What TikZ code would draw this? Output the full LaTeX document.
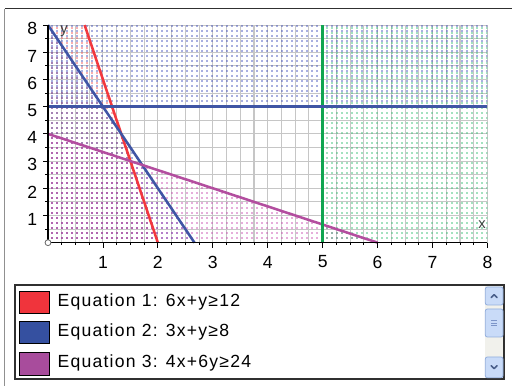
\documentclass[tikz,border=0pt]{standalone}
\usepackage{fontspec}
\setmainfont{Liberation Sans}
\newfontfamily\legfont[LetterSpace=7]{Liberation Sans}
\usetikzlibrary{patterns}
\pgfdeclarepatternformonly{pxdots}{\pgfpointorigin}{\pgfqpoint{3.43pt}{3.43pt}}{\pgfqpoint{3.43pt}{3.43pt}}{%
  \pgfpathrectangle{\pgfqpoint{1.2pt}{1.2pt}}{\pgfqpoint{1.0pt}{1.0pt}}\pgfusepath{fill}}
\definecolor{eqred}{HTML}{F2383E}
\definecolor{eqblue}{HTML}{3F55A5}
\definecolor{eqpurp}{HTML}{B34E9F}
\definecolor{eqgreen}{HTML}{10A550}
\definecolor{dotred}{HTML}{F04848}
\definecolor{dotblue}{HTML}{3444B8}
\definecolor{dotpink}{HTML}{C440AC}
\definecolor{dotgreen}{HTML}{28BC68}
\definecolor{gridc}{HTML}{C6C6C6}
\definecolor{framedark}{HTML}{303030}
\definecolor{framegray}{HTML}{909090}
\definecolor{sbtrack}{HTML}{F1F1EC}
\definecolor{sbbtn}{HTML}{C9DBF8}
\definecolor{sbborder}{HTML}{93AEDD}
\definecolor{sbarrow}{HTML}{4A5F8A}
\definecolor{sbgrip}{HTML}{7D95C8}
\definecolor{swred}{HTML}{F0343C}
\definecolor{swblue}{HTML}{3550A0}
\definecolor{swpurp}{HTML}{A84C9C}
\tikzset{
  gridline/.style={gridc, line width=0.8pt},
  eqline/.style={line width=1.9pt},
  tickl/.style={black, line width=0.6pt},
  ticklab/.style={inner sep=0pt, font=\fontsize{13.2}{15}\selectfont},
  axlab/.style={inner sep=0pt, text=black!75, font=\fontsize{11}{13}\selectfont},
  swatch/.style={draw=black, line width=0.7pt},
  legtext/.style={inner sep=0pt, anchor=base west, font=\legfont\fontsize{13.2}{15}\selectfont},
  sbbutton/.style={fill=sbbtn, draw=sbborder, line width=0.6pt, rounded corners=1.5pt},
  chev/.style={sbarrow, line width=1.2pt, line cap=round, line join=round}
}
\begin{document}
\begin{tikzpicture}[x=1pt,y=1pt]
\useasboundingbox (0,0) rectangle (384,289.5);
\fill[white] (0,0) rectangle (384,289.5);
% outer frame
\draw[framegray, line width=0.9pt] (3.4,0) -- (3.4,283.1);
\draw[framedark, line width=1.1pt] (3.4,283.1) -- (384,283.1);

\begin{scope}[shift={(36,107.5)}, x=41.2pt, y=20.4pt]
  % grid
  \foreach \i in {0,0.25,...,8} \draw[gridline] (\i,0) -- (\i,8);
  \foreach \j in {0,0.5,...,8} \draw[gridline] (0,\j) -- (8,\j);
  % shaded (dotted) regions
  \fill[pattern=pxdots, pattern color=dotred] (0,0) -- (2,0) -- (0.6667,8) -- (0,8) -- cycle;
  \fill[pattern=pxdots, pattern color=dotblue] (0,0) -- (2.6667,0) -- (0,8) -- cycle;
  \fill[pattern=pxdots, pattern color=dotpink] (0,0) -- (6,0) -- (0,4) -- cycle;
  \fill[pattern=pxdots, pattern color=dotgreen] (5,0) rectangle (8,8);
  \fill[pattern=pxdots, pattern color=dotblue] (0,5) rectangle (8,8);
  % equation lines
  \draw[eqline, eqred] (0.6667,8) -- (2,0);
  \draw[eqline, eqblue] (0,8) -- (2.6667,0);
  \draw[eqline, eqpurp] (0,4) -- (6,0);
  \draw[eqline, eqgreen] (5,0) -- (5,8);
  \draw[eqline, eqblue] (0,5) -- (8,5);
  % axes
  \draw[black, line width=0.8pt] (0,0) -- (8,0);
  \draw[black, line width=0.8pt] (0,0) -- (0,8);
  \foreach \i in {0.25,0.5,...,8} \draw[tickl] (\i,0) -- ++(0,-2pt);
  \foreach \i in {1,...,8} \draw[tickl] (\i,0) -- ++(0,-4pt);
  \foreach \j in {0.5,1,...,8} \draw[tickl] (0,\j) -- ++(-2pt,0);
  \foreach \j in {1,...,8} \draw[tickl] (0,\j) -- ++(-4pt,0);
  \draw[fill=white, draw=black!60, line width=0.6pt] (0,0) circle (2.2pt);
  % tick labels
  \foreach \i in {1,...,8} \node[ticklab, yshift=-14.5pt] (xl\i) at (\i,0) {\i};
  \foreach \j in {1,...,8} \node[ticklab, anchor=east, xshift=-8pt, yshift=-2.8pt] (yl\j) at (0,\j) {\j};
\end{scope}
% axis names
\node[axlab] (ylab) at (48,266.5) {y};
\node[axlab] (xlab) at (361.5,121) {x};

% legend box
\draw[framedark, line width=1pt] (11.25,5.25) rectangle (378,75.75);
% scrollbar
\fill[sbtrack] (363.75,5.75) rectangle (377.5,75.25);
\draw[sbbutton] (364,60.75) rectangle (377.25,74.25);
\draw[chev] (368.4,66.3) -- (370.6,68.5) -- (372.8,66.3);
\draw[sbbutton] (364,36.75) rectangle (377.25,57.75);
\foreach \k in {-1.6,0,1.6} \draw[sbgrip, line width=0.6pt] (368.6,47.25+\k) -- (372.6,47.25+\k);
\draw[sbbutton] (364,6.2) rectangle (377.25,21.75);
\draw[chev] (368.4,15.2) -- (370.6,13) -- (372.8,15.2);
% entries
\filldraw[swatch, fill=swred] (14.25,54.75) rectangle (36.75,71.25);
\filldraw[swatch, fill=swblue] (14.25,32.25) rectangle (36.75,48.75);
\filldraw[swatch, fill=swpurp] (14.25,8.25) rectangle (36.75,25.5);
\node[legtext] (e1) at (43,59.5) {Equation 1: 6x+y≥12};
\node[legtext] (e2) at (43,36.75) {Equation 2: 3x+y≥8};
\node[legtext] (e3) at (43,13.5) {Equation 3: 4x+6y≥24};
\end{tikzpicture}
\end{document}
